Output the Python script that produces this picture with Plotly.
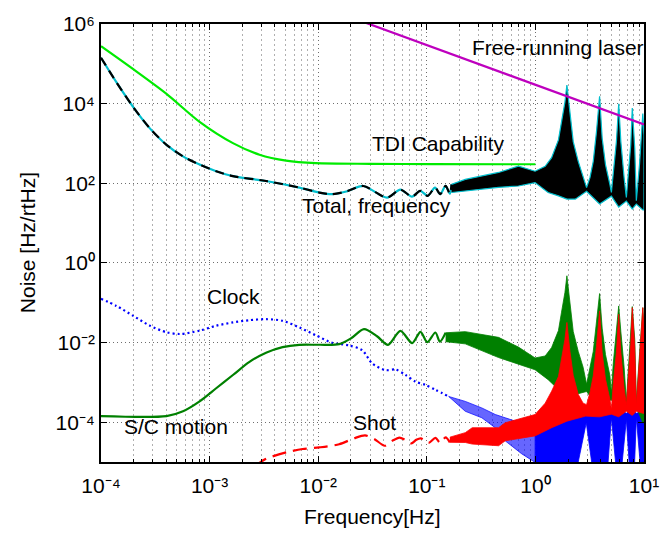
import plotly.graph_objects as go

# ---------------- data ----------------
# Total, frequency (smooth part + wiggles)
total_f = [1.00e-4, 1.39e-4, 1.98e-4, 2.82e-4, 4.01e-4, 5.69e-4, 8.09e-4, 1.15e-3, 1.64e-3,
           3.31e-3, 6.70e-3, 1.02e-2, 1.34e-2, 1.85e-2, 2.6e-2, 4.3e-2, 5.7e-2, 7.3e-2,
           8.7e-2, 0.102, 0.119, 0.133, 0.149, 0.163, 0.169]
total_v = [1.42e5, 3.41e4, 8.20e3, 2.39e3, 923, 473, 295, 201, 151,
           114, 78, 58.6, 53.2, 63.1, 85.5, 43.6, 69.5, 46.1,
           64.3, 48.3, 78.0, 53.2, 86.4, 54.7, 94.2]
# Total, frequency: dense oscillation band (upper / lower envelope)
total_hi_f = [0.169, 0.226, 0.458, 0.698, 0.993, 1.23, 1.41, 1.63, 1.74, 1.87, 1.95, 2.08, 2.23,
              2.48, 2.75, 2.96, 3.18, 3.41, 3.65, 3.9, 4.12, 4.42, 4.85, 5.01, 5.20, 5.57,
              5.85, 6.12, 6.56, 6.88, 7.55, 7.8, 8.22, 8.50, 9.09, 9.75, 10]
total_hi = [94.2, 125, 187, 270, 201, 267, 439, 1230, 3490, 10900, 29400, 5110, 1110,
            356, 138, 78, 138, 356, 1970, 15300, 1350, 295, 94, 58.6, 167, 1110,
            9950, 1110, 138, 44, 923, 7740, 764, 36.3, 295, 5620, 1630]
total_lo_f = [0.169, 0.226, 0.458, 0.698, 0.993, 1.31, 1.63, 1.95, 2.33, 2.96, 3.9, 5.01,
              5.85, 6.88, 7.8, 8.50, 9.75, 10]
total_lo = [58.6, 64.3, 79.3, 85.5, 104, 58.6, 48.3, 40.0, 40.0, 63.1, 30.1, 47.5,
            25.3, 35.7, 22.6, 30.1, 21.4, 21.4]

# TDI Capability
tdi_f = [1e-4, 1.98e-4, 4.01e-4, 8.09e-4, 1.64e-3, 2.88e-3, 5.06e-3, 9.5e-3, 0.03, 0.111, 1.0]
tdi_v = [2.77e5, 7.33e4, 1.76e4, 3.49e3, 1.02e3, 521, 370, 320, 308, 303, 300]

# Free-running laser
laser_f = [0.02, 10]
laser_v = [1.47e6, 3.0e3]

# Clock
clock_f = [1.00e-4, 1.39e-4, 1.98e-4, 2.82e-4, 4.01e-4, 5.31e-4, 8.09e-4, 1.15e-3, 1.64e-3,
           2.33e-3, 3.31e-3, 4.70e-3, 6.70e-3, 9.53e-3, 1.35e-2, 1.92e-2, 2.55e-2, 3.15e-2,
           4.18e-2, 5.16e-2, 6.38e-2, 7.88e-2, 9.73e-2, 0.120, 0.159]
clock_v = [0.126, 8.30e-2, 4.69e-2, 2.65e-2, 1.81e-2, 1.64e-2, 1.99e-2, 2.65e-2, 3.20e-2,
           3.65e-2, 3.86e-2, 3.52e-2, 2.40e-2, 1.52e-2, 9.82e-3, 8.47e-3, 6.37e-3, 2.96e-3,
           2.03e-3, 2.10e-3, 1.53e-3, 1.04e-3, 8.64e-4, 6.50e-4, 4.43e-4]
clock_b1_f = [0.159, 0.226, 0.321, 0.427, 0.527, 0.745, 0.993]
clock_b1_hi = [4.43e-4, 3.33e-4, 2.28e-4, 1.56e-4, 1.29e-4, 9.5e-5, 7.3e-5]
clock_b1_lo = [4.43e-4, 1.88e-4, 1.29e-4, 7.26e-5, 3.40e-5, 1.62e-5, 9.8e-6]
clock_b2_hi_f = [0.993, 1.41, 1.95, 2.94, 3.9, 5.01, 5.85, 6.88, 7.8, 8.5, 9.75, 10]
clock_b2_hi = [7.3e-5, 1.19e-4, 2.51e-4, 1.68e-4, 2.51e-4, 1.68e-4, 2.11e-4, 1.68e-4,
               2.11e-4, 1.68e-4, 1.88e-4, 1.68e-4]
clock_b2_lo_f = [0.993, 1.5, 2.3, 2.48, 2.94, 3.28, 3.5, 4.4, 4.67, 5.01, 5.46, 5.7, 6.1,
                 6.3, 6.88, 7.3, 7.5, 8.0, 8.2, 8.5, 9.2, 9.4, 10]
clock_b2_lo = [9.8e-6, 3e-6, 3e-6, 1e-5, 9.7e-5, 1e-5, 3e-6, 3e-6, 1e-5, 1.29e-4, 1e-5, 3e-6,
               3e-6, 1e-5, 1.17e-4, 1e-5, 3e-6, 3e-6, 1e-5, 1.29e-4, 1e-5, 3e-6, 3e-6]

# S/C motion
sc_f = [1.00e-4, 4.01e-4, 5.69e-4, 8.09e-4, 1.15e-3, 1.64e-3, 2.33e-3, 3.31e-3, 4.70e-3,
        6.70e-3, 1.02e-2, 1.56e-2, 2.01e-2, 2.64e-2, 3.48e-2, 4.39e-2, 5.71e-2, 7.33e-2,
        8.75e-2, 0.101, 0.120, 0.132, 0.149]
sc_v = [1.42e-4, 1.42e-4, 1.88e-4, 3.33e-4, 7.11e-4, 1.53e-3, 3.27e-3, 5.55e-3, 7.68e-3,
        8.75e-3, 8.8e-3, 9.12e-3, 1.28e-2, 2.18e-2, 1.44e-2, 8.75e-3, 1.97e-2, 9.66e-3,
        1.86e-2, 1.02e-2, 1.79e-2, 1.05e-2, 1.76e-2]
sc_hi_f = [0.149, 0.226, 0.458, 0.698, 0.993, 1.23, 1.41, 1.63, 1.74, 1.87, 1.95, 2.08, 2.23,
           2.48, 2.75, 2.96, 3.18, 3.41, 3.65, 3.9, 4.12, 4.42, 4.85, 5.01, 5.20, 5.57,
           5.85, 6.12, 6.56, 6.88, 7.55, 7.8, 8.22, 8.50, 9.09, 9.75, 10]
sc_hi = [1.76e-2, 1.88e-2, 1.35e-2, 7.7e-3, 4.1e-3, 4.6e-3, 7.5e-3, 2.0e-2, 5.8e-2, 0.18, 0.475,
         8.5e-2, 1.9e-2, 6e-3, 2.4e-3, 9e-4, 2.4e-3, 6e-3, 3.3e-2, 0.17, 2.3e-2, 5e-3, 1.5e-3,
         5.3e-4, 2.8e-3, 1.9e-2, 8.3e-2, 1.9e-2, 2.4e-3, 3.3e-4, 1.5e-2, 8e-2, 1.2e-2, 3.3e-4,
         5e-3, 7.5e-2, 2.5e-2]
sc_lo_f = [0.149, 0.226, 0.458, 0.698, 0.993, 1.31, 1.63, 1.95, 2.33, 2.96, 3.9, 5.01, 5.85,
           6.88, 7.8, 8.50, 9.75, 10]
sc_lo = [1.05e-2, 9.27e-3, 4.2e-3, 2.91e-3, 2.07e-3, 1.17e-3, 6.61e-4, 4.43e-4, 4.97e-4,
         5.9e-4, 2.11e-4, 3.73e-4, 1.71e-4, 2.65e-4, 1.59e-4, 2.37e-4, 9.66e-5, 9.66e-5]

# Shot
shot_f = [2.59e-3, 3.31e-3, 5.06e-3, 7.18e-3, 1.02e-2, 1.56e-2, 2.14e-2, 2.7e-2, 3.27e-2,
          4.1e-2, 4.8e-2, 5.6e-2, 6.3e-2, 7.2e-2, 8.0e-2, 8.8e-2, 0.104, 0.120, 0.133,
          0.149, 0.163]
shot_v = [7.71e-6, 1.20e-5, 1.74e-5, 2.12e-5, 2.32e-5, 2.79e-5, 3.93e-5, 4.66e-5, 3.81e-5,
          2.56e-5, 3.40e-5, 4.11e-5, 3.61e-5, 2.92e-5, 3.6e-5, 3.93e-5, 3.03e-5, 4.04e-5,
          3.03e-5, 4.16e-5, 3.12e-5]
shot_hi_f = [0.163, 0.226, 0.262, 0.458, 0.527, 0.993, 1.23, 1.41, 1.63, 1.74, 1.87, 1.95,
             2.08, 2.23, 2.48, 2.75, 2.96, 3.18, 3.41, 3.65, 3.9, 4.12, 4.42, 4.85, 5.01,
             5.20, 5.57, 5.85, 6.12, 6.56, 6.88, 7.55, 7.8, 8.22, 8.50, 9.09, 9.75, 10]
shot_hi = [4.2e-5, 5.46e-5, 7.26e-5, 7.26e-5, 9.66e-5, 1.56e-4, 3e-4, 6e-4, 1.4e-3, 4e-3,
           1.2e-2, 3.2e-2, 6e-3, 1.5e-3, 5e-4, 3e-4, 2.76e-4, 5.6e-4, 1.45e-3, 8e-3, 6.24e-2,
           5.5e-3, 1.2e-3, 3.8e-4, 2.1e-4, 8.6e-4, 5.7e-3, 5.14e-2, 5.7e-3, 7.1e-4, 2.8e-4,
           9e-3, 7.53e-2, 7.4e-3, 2.8e-4, 3.9e-3, 7.53e-2, 2.2e-2]
shot_lo_f = [0.163, 0.226, 0.262, 0.458, 0.527, 0.993, 1.41, 1.95, 2.9, 3.9, 5.0, 5.85, 6.88,
             7.8, 8.5, 9.75, 10]
shot_lo = [3.12e-5, 3.09e-5, 2.82e-5, 2.56e-5, 3.4e-5, 4.53e-5, 7.26e-5, 1.06e-4, 1.42e-4,
           1.36e-4, 1.59e-4, 1.36e-4, 1.88e-4, 1.48e-4, 1.88e-4, 1.67e-4, 1.67e-4]

# axis ticks
x_ticks = [1e-4, 1e-3, 1e-2, 1e-1, 1e0, 1e1]
x_ticktext = ["10⁻⁴", "10⁻³", "10⁻²", "10⁻¹", "10⁰", "10¹"]
y_ticks = [1e-4, 1e-2, 1e0, 1e2, 1e4, 1e6]
y_ticktext = ["10⁻⁴", "10⁻²", "10⁰", "10²", "10⁴", "10⁶"]

# ---------------- figure ----------------
FONT = "Liberation Sans, Arial, Helvetica, sans-serif"
FS = 21
fig = go.Figure()


def add_line(x, y, color, width, dash="solid", shape="spline"):
    fig.add_trace(go.Scatter(x=x, y=y, mode="lines", hoverinfo="skip", showlegend=False,
                             line=dict(color=color, width=width, dash=dash, shape=shape,
                                       smoothing=0.8)))


def add_band(fhi, hi, flo, lo, fill, edge, ew):
    fig.add_trace(go.Scatter(x=list(fhi) + list(flo)[::-1], y=list(hi) + list(lo)[::-1],
                             mode="lines", fill="toself", fillcolor=fill,
                             line=dict(color=edge, width=ew), hoverinfo="skip",
                             showlegend=False))


CYAN = "rgb(0,190,205)"
# Total, frequency
add_line(total_f, total_v, CYAN, 2.2)
add_line(total_f, total_v, "black", 2.2, dash="9px,6px")
add_band(total_hi_f, total_hi, total_lo_f, total_lo, "black", CYAN, 1.2)
# TDI capability
add_line(tdi_f, tdi_v, "rgb(0,235,0)", 2.2)
# Laser
add_line(laser_f, laser_v, "rgb(190,0,190)", 2.2, shape="linear")
# Clock
add_line(clock_f, clock_v, "blue", 2.2, dash="2px,3px")
add_band(clock_b1_f, clock_b1_hi, clock_b1_f, clock_b1_lo, "rgba(0,0,255,0.6)",
         "rgba(0,0,255,0.7)", 1)
add_band(clock_b2_hi_f, clock_b2_hi, clock_b2_lo_f, clock_b2_lo, "blue", "blue", 0.8)
# S/C motion
add_line(sc_f, sc_v, "rgb(0,128,0)", 2.2)
add_band(sc_hi_f, sc_hi, sc_lo_f, sc_lo, "rgb(0,128,0)", "rgb(0,128,0)", 0.8)
# Shot
add_line(shot_f, shot_v, "red", 2.2, dash="14px,7px")
add_band(shot_hi_f, shot_hi, shot_lo_f, shot_lo, "red", "red", 0.8)

labels = [
    ("Free-running laser", -0.60, 5.42),
    ("TDI Capability", -1.52, 3.00),
    ("Total, frequency", -2.17, 1.44),
    ("Clock", -3.04, -0.85),
    ("S/C motion", -3.81, -4.12),
    ("Shot", -1.70, -4.00),
]
for txt, lx, ly in labels:
    fig.add_annotation(x=lx, y=ly, xref="x", yref="y", text=txt, showarrow=False,
                       xanchor="left", yanchor="middle",
                       font=dict(family=FONT, size=FS, color="black"))

fig.add_annotation(x=-0.136, y=0.5, xref="paper", yref="paper", text="Noise [Hz/rtHz]",
                   textangle=-90, showarrow=False, xanchor="center", yanchor="middle",
                   font=dict(family=FONT, size=FS, color="black"))
fig.add_annotation(x=0.5, y=-0.124, xref="paper", yref="paper", text="Frequency[Hz]",
                   showarrow=False, xanchor="center", yanchor="middle",
                   font=dict(family=FONT, size=FS, color="black"))

x_minor = [m * 10.0 ** e for e in range(-4, 1) for m in range(2, 10)]

MAJOR_GRID = "rgb(110,110,110)"
MINOR_GRID = "rgb(175,175,175)"
fig.update_layout(
    width=671, height=533,
    margin=dict(l=101, r=25, t=17, b=71),
    paper_bgcolor="white", plot_bgcolor="white",
    font=dict(family=FONT, size=FS, color="black"),
    xaxis=dict(type="log", range=[-4, 1], tickmode="array", tickvals=x_ticks,
               ticktext=x_ticktext, ticks="inside", ticklen=6, tickcolor="black",
               showline=True, linecolor="black", linewidth=1.8, mirror="allticks",
               showgrid=True, gridcolor=MAJOR_GRID, griddash="1px,3px", gridwidth=1,
               zeroline=False, tickfont=dict(size=FS), ticklabelstandoff=4,
               minor=dict(tickmode="array", tickvals=x_minor, ticks="inside", ticklen=3,
                          tickcolor="black", showgrid=True, gridcolor=MINOR_GRID,
                          griddash="2px,3px", gridwidth=1)),
    yaxis=dict(type="log", range=[-5, 6], tickmode="array", tickvals=y_ticks,
               ticktext=y_ticktext, ticks="inside", ticklen=6, tickcolor="black",
               showline=True, linecolor="black", linewidth=1.8, mirror="allticks",
               showgrid=True, gridcolor=MAJOR_GRID, griddash="1px,3px", gridwidth=1,
               zeroline=False, tickfont=dict(size=FS)),
)

fig.write_html("out.html")
